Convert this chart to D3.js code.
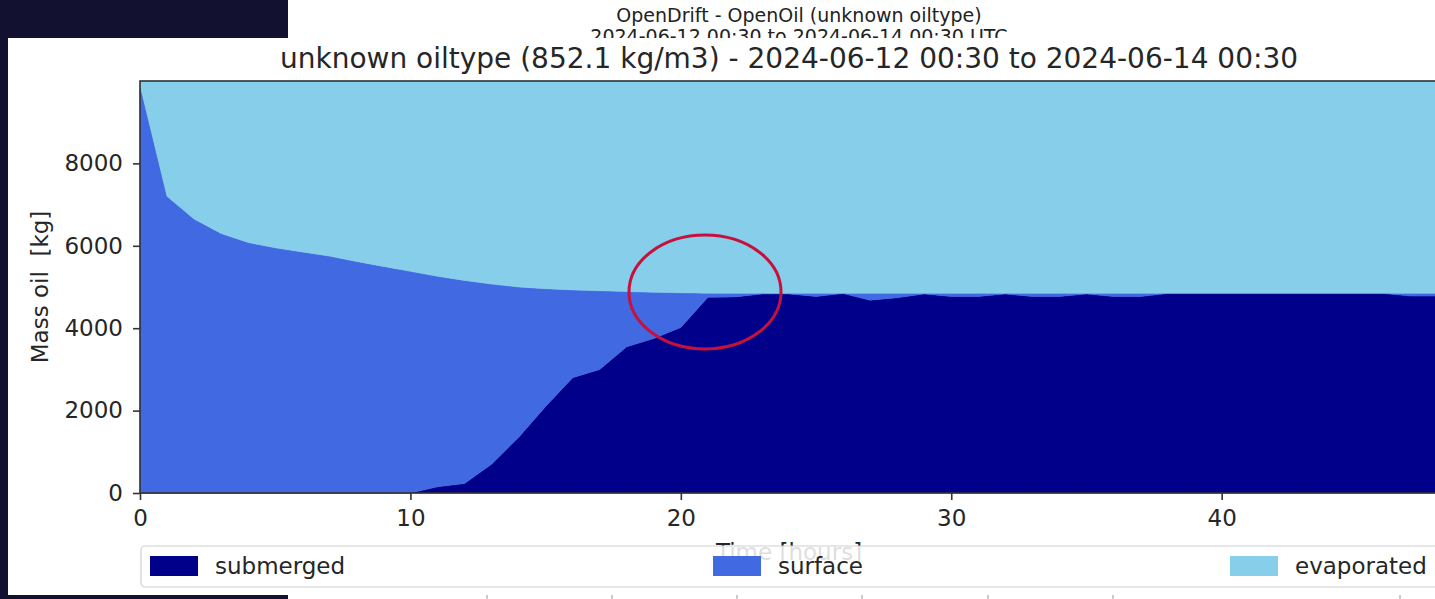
<!DOCTYPE html>
<html><head><meta charset="utf-8">
<script src="https://cdn.jsdelivr.net/npm/d3@7"></script>
<style>html,body{margin:0;padding:0;background:#121230;overflow:hidden}</style>
</head><body>
<svg id="c" width="1435" height="599"></svg>
<script>
const hours = d3.range(0, 49);
const submerged = [0,0,0,0,0,0,0,0,0,0,0,150,230,700,1350,2100,2800,3000,3550,3750,4020,4750,4760,4830,4830,4770,4840,4680,4740,4830,4770,4770,4830,4770,4770,4830,4770,4770,4840,4840,4840,4840,4840,4840,4840,4840,4840,4780,4780];
const surface = [9900,7200,6650,6300,6080,5950,5850,5750,5620,5500,5380,5110,4930,4370,3650,2860,2130,1910,1340,1120,840,100,90,20,20,80,10,170,110,20,80,80,20,80,80,20,80,80,10,10,10,10,10,10,10,10,10,70,70];
const evaporated = [100,2800,3350,3700,3920,4050,4150,4250,4380,4500,4620,4740,4840,4930,5000,5040,5070,5090,5110,5130,5140,5150,5150,5150,5150,5150,5150,5150,5150,5150,5150,5150,5150,5150,5150,5150,5150,5150,5150,5150,5150,5150,5150,5150,5150,5150,5150,5150,5150];
const seriesNames = ["submerged","surface","evaporated"];
const seriesColors = ["#00008b","#4169e1","#87ceeb"];
const xTicks = [0,10,20,30,40];
const yTicks = [0,2000,4000,6000,8000];

const svg = d3.select("#c");
const font = "DejaVu Sans, sans-serif";

// background panels
svg.append("rect").attr("x",0).attr("y",0).attr("width",1435).attr("height",599).attr("fill","#121230");
svg.append("rect").attr("x",288).attr("y",0).attr("width",1147).attr("height",599).attr("fill","#ffffff");

// faint marks at bottom of background page
[487,612,737,862,988,1113,1400].forEach(x=>{
  svg.append("line").attr("x1",x).attr("x2",x).attr("y1",593).attr("y2",599).attr("stroke","#555").attr("stroke-width",1).attr("opacity",0.6);
});

// background figure title
svg.append("text").attr("x",799).attr("y",22).attr("text-anchor","middle").attr("font-family",font).attr("font-size",19).attr("fill","#222")
  .text("OpenDrift - OpenOil (unknown oiltype)");
svg.append("text").attr("x",799).attr("y",43).attr("text-anchor","middle").attr("font-family",font).attr("font-size",19).attr("fill","#222")
  .text("2024-06-12 00:30 to 2024-06-14 00:30 UTC");

// foreground figure panel
svg.append("rect").attr("x",8).attr("y",38).attr("width",1427).attr("height",557).attr("fill","#ffffff");

const m = {left:140, right:1438, top:81, bottom:493};
const x = d3.scaleLinear().domain([0,48]).range([m.left,m.right]);
const y = d3.scaleLinear().domain([0,10000]).range([m.bottom,m.top]);

const table = hours.map((h,i)=>({hour:h, submerged:submerged[i], surface:surface[i], evaporated:evaporated[i]}));
const stack = d3.stack().keys(seriesNames)(table);
const area = d3.area().x(d=>x(d.data.hour)).y0(d=>y(d[0])).y1(d=>y(d[1]));

const g = svg.append("g");
g.selectAll("path.area").data(stack).enter().append("path")
  .attr("d", area).attr("fill",(d,i)=>seriesColors[i]).attr("stroke",(d,i)=>seriesColors[i]).attr("stroke-width",0.5);

// frame
g.append("rect").attr("x",m.left).attr("y",m.top).attr("width",m.right-m.left).attr("height",m.bottom-m.top)
  .attr("fill","none").attr("stroke","#333").attr("stroke-width",1.6);

// axes
const xa = svg.append("g").attr("transform",`translate(0,${m.bottom})`)
  .call(d3.axisBottom(x).tickValues(xTicks).tickFormat(d3.format("d")).tickSize(7).tickSizeOuter(0).tickPadding(10));
const ya = svg.append("g").attr("transform",`translate(${m.left},0)`)
  .call(d3.axisLeft(y).tickValues(yTicks).tickFormat(d3.format("d")).tickSize(7).tickSizeOuter(0).tickPadding(10));
[xa,ya].forEach(a=>{
  a.select(".domain").remove();
  a.selectAll(".tick line").attr("stroke","#333").attr("stroke-width",1.6);
  a.selectAll(".tick text").attr("font-family",font).attr("font-size",23).attr("fill","#262626");
});

// axis labels
svg.append("text").attr("transform","translate(48,287) rotate(-90)").attr("text-anchor","middle")
  .attr("font-family",font).attr("font-size",23).attr("fill","#262626").attr("xml:space","preserve").text("Mass oil  [kg]");
svg.append("text").attr("x",789).attr("y",560).attr("text-anchor","middle")
  .attr("font-family",font).attr("font-size",23).attr("fill","#262626").text("Time  [hours]");

// main title
svg.append("text").attr("x",789).attr("y",68).attr("text-anchor","middle")
  .attr("font-family",font).attr("font-size",28).attr("fill","#262626")
  .text("unknown oiltype (852.1 kg/m3) - 2024-06-12 00:30 to 2024-06-14 00:30");

// legend
svg.append("rect").attr("x",141).attr("y",546).attr("width",1310).attr("height",41).attr("rx",4)
  .attr("fill","#ffffff").attr("fill-opacity",0.85).attr("stroke","#d0d0d0").attr("stroke-width",1.2);
const legX = [150,713,1230];
seriesNames.forEach((n,i)=>{
  svg.append("rect").attr("x",legX[i]).attr("y",556).attr("width",48).attr("height",20).attr("fill",seriesColors[i]);
  svg.append("text").attr("x",legX[i]+65).attr("y",574).attr("font-family",font).attr("font-size",23).attr("fill","#262626").text(n);
});

// red annotation ellipse
svg.append("ellipse").attr("cx",705).attr("cy",292).attr("rx",76).attr("ry",57)
  .attr("fill","none").attr("stroke","#c8103c").attr("stroke-width",3);
</script>
</body></html>
